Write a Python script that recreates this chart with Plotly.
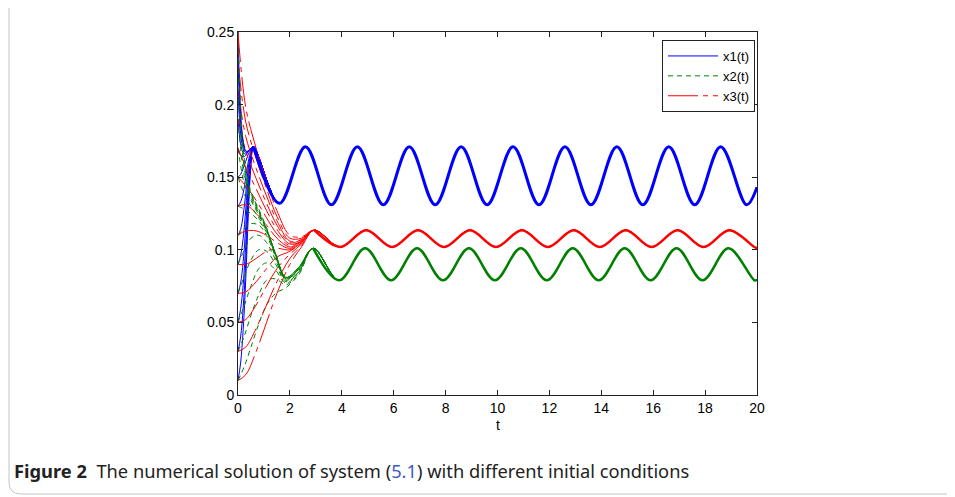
import plotly.graph_objects as go

# start of each run, before it settles onto the cycle (runs start at x1 = x2 = x3 = c)
INIT = [0.01, 0.03, 0.05, 0.07, 0.09, 0.11, 0.13, 0.15, 0.17, 0.19, 0.21, 0.23, 0.25]

T_X1 = [0, 0.1, 0.2, 0.3, 0.4, 0.5]
X1_START = [
    [0.010, 0.022, 0.045, 0.080, 0.125, 0.158],
    [0.030, 0.040, 0.060, 0.092, 0.133, 0.160],
    [0.050, 0.059, 0.076, 0.104, 0.140, 0.162],
    [0.070, 0.077, 0.092, 0.116, 0.146, 0.164],
    [0.090, 0.096, 0.108, 0.128, 0.152, 0.165],
    [0.110, 0.114, 0.124, 0.139, 0.157, 0.167],
    [0.130, 0.133, 0.139, 0.150, 0.161, 0.168],
    [0.150, 0.152, 0.156, 0.161, 0.166, 0.169],
    [0.170, 0.165, 0.164, 0.165, 0.168, 0.170],
    [0.190, 0.173, 0.167, 0.166, 0.168, 0.170],
    [0.210, 0.180, 0.170, 0.167, 0.168, 0.170],
    [0.230, 0.188, 0.173, 0.168, 0.168, 0.170],
    [0.250, 0.195, 0.175, 0.168, 0.168, 0.170],
]

T_X2 = [0, 0.25, 0.5, 0.8, 1.1, 1.45, 1.85, 2.35]
X2_START = [
    [0.010, 0.020, 0.033, 0.049, 0.062, 0.070, 0.074, 0.083],
    [0.030, 0.041, 0.055, 0.069, 0.079, 0.080, 0.076, 0.084],
    [0.050, 0.062, 0.075, 0.087, 0.091, 0.086, 0.077, 0.085],
    [0.070, 0.082, 0.093, 0.100, 0.099, 0.090, 0.078, 0.085],
    [0.090, 0.100, 0.108, 0.110, 0.105, 0.093, 0.079, 0.086],
    [0.110, 0.115, 0.118, 0.117, 0.110, 0.095, 0.080, 0.087],
    [0.130, 0.128, 0.125, 0.120, 0.112, 0.096, 0.080, 0.087],
    [0.150, 0.138, 0.130, 0.122, 0.113, 0.096, 0.080, 0.087],
    [0.170, 0.145, 0.134, 0.124, 0.114, 0.097, 0.080, 0.087],
    [0.190, 0.150, 0.136, 0.125, 0.114, 0.097, 0.081, 0.088],
    [0.210, 0.155, 0.138, 0.126, 0.114, 0.097, 0.081, 0.088],
    [0.230, 0.158, 0.139, 0.127, 0.115, 0.097, 0.081, 0.088],
    [0.250, 0.162, 0.140, 0.128, 0.115, 0.097, 0.081, 0.088],
]

T_X3 = [0, 0.3, 0.7, 1.1, 1.5, 2.0, 2.45]
X3_START = [
    [0.010, 0.014, 0.030, 0.050, 0.070, 0.090, 0.102],
    [0.030, 0.033, 0.046, 0.062, 0.078, 0.094, 0.103],
    [0.050, 0.052, 0.062, 0.075, 0.087, 0.097, 0.104],
    [0.070, 0.071, 0.078, 0.087, 0.095, 0.099, 0.105],
    [0.090, 0.090, 0.094, 0.099, 0.101, 0.100, 0.105],
    [0.110, 0.113, 0.113, 0.110, 0.105, 0.101, 0.106],
    [0.130, 0.131, 0.125, 0.117, 0.108, 0.102, 0.106],
    [0.150, 0.144, 0.134, 0.122, 0.111, 0.103, 0.106],
    [0.170, 0.157, 0.142, 0.127, 0.114, 0.104, 0.106],
    [0.190, 0.168, 0.149, 0.132, 0.117, 0.105, 0.107],
    [0.210, 0.178, 0.156, 0.137, 0.120, 0.106, 0.107],
    [0.230, 0.188, 0.163, 0.142, 0.123, 0.108, 0.108],
    [0.250, 0.198, 0.170, 0.147, 0.127, 0.110, 0.109],
]

# settled cycle: peaks and troughs
X1_CYCLE_T = [0.6, 1.6, 2.6, 3.6, 4.6, 5.6, 6.6, 7.6, 8.6, 9.6, 10.6,
              11.6, 12.6, 13.6, 14.6, 15.6, 16.6, 17.6, 18.6, 19.6, 20.0]
X1_CYCLE = [0.171, 0.132, 0.171, 0.131, 0.171, 0.131, 0.171, 0.131, 0.171, 0.131, 0.171,
            0.131, 0.171, 0.131, 0.171, 0.131, 0.171, 0.131, 0.171, 0.131, 0.143]

X2_CYCLE_T = [2.9, 3.9, 4.9, 5.9, 6.9, 7.9, 8.9, 9.9, 10.9, 11.9,
              12.9, 13.9, 14.9, 15.9, 16.9, 17.9, 18.9, 19.9, 20.0]
X2_CYCLE = [0.101, 0.079, 0.101, 0.079, 0.101, 0.079, 0.101, 0.079, 0.101, 0.079,
            0.101, 0.079, 0.101, 0.079, 0.101, 0.079, 0.101, 0.079, 0.0792]

X3_CYCLE_T = [2.94, 3.94, 4.94, 5.94, 6.94, 7.94, 8.94, 9.94, 10.94, 11.94,
              12.94, 13.94, 14.94, 15.94, 16.94, 17.94, 18.94, 19.94, 20.0]
X3_CYCLE = [0.1135, 0.102, 0.1135, 0.102, 0.1135, 0.102, 0.1135, 0.102, 0.1135, 0.102,
            0.1135, 0.102, 0.1135, 0.102, 0.1135, 0.102, 0.1135, 0.1015, 0.1016]

X_TICKS = [0, 2, 4, 6, 8, 10, 12, 14, 16, 18, 20]
Y_TICKS = [0, 0.05, 0.1, 0.15, 0.2, 0.25]
Y_TICK_TEXT = ["0", "0.05", "0.1", "0.15", "0.2", "0.25"]

BLUE = "#0000ff"
GREEN = "#008000"
RED = "#ff0000"
GREEN_DASH = "5px,4px"
RED_DASH = "30px,5px,5px,5px"

fig = go.Figure()

for i in range(len(INIT)):
    first = i == 0
    fig.add_trace(go.Scatter(
        x=T_X1 + X1_CYCLE_T, y=X1_START[i] + X1_CYCLE, mode="lines", name="x1(t)",
        line=dict(color=BLUE, width=1, shape="spline"),
        showlegend=first, legendrank=1))
    fig.add_trace(go.Scatter(
        x=T_X2 + X2_CYCLE_T, y=X2_START[i] + X2_CYCLE, mode="lines", name="x2(t)",
        line=dict(color=GREEN, width=1, dash=GREEN_DASH, shape="spline"),
        showlegend=first, legendrank=2))
    fig.add_trace(go.Scatter(
        x=T_X3 + X3_CYCLE_T, y=X3_START[i] + X3_CYCLE, mode="lines", name="x3(t)",
        line=dict(color=RED, width=1, dash=RED_DASH, shape="spline"),
        showlegend=first, legendrank=3))

# the runs all lie on top of each other once settled, which reads as a thick band
fig.add_trace(go.Scatter(x=X1_CYCLE_T, y=X1_CYCLE, mode="lines", showlegend=False,
                         line=dict(color=BLUE, width=3, shape="spline")))
fig.add_trace(go.Scatter(x=X2_CYCLE_T, y=X2_CYCLE, mode="lines", showlegend=False,
                         line=dict(color=GREEN, width=2.5, shape="spline")))
fig.add_trace(go.Scatter(x=X3_CYCLE_T, y=X3_CYCLE, mode="lines", showlegend=False,
                         line=dict(color=RED, width=2.5, shape="spline")))

W, H = 955, 497
OFF = 8  # the page body margin pushes the figure 8px right and down
L, R, T, B = 238, 757, 32, 395


def px(x):
    return (x - L) / (R - L)


def py(y):
    return (B - y) / (B - T)


axis_font = dict(family="Liberation Sans, Arial, sans-serif", size=14, color="black")
fig.update_xaxes(range=[0, 20], tickvals=X_TICKS, ticks="inside", ticklen=5,
                 showline=True, mirror="ticks", linecolor="#222", linewidth=1,
                 tickcolor="#222", showgrid=False, zeroline=False, tickfont=axis_font)
fig.update_yaxes(range=[0, 0.25], tickvals=Y_TICKS, ticktext=Y_TICK_TEXT, ticks="inside",
                 ticklen=5, showline=True, mirror="ticks", linecolor="#222", linewidth=1,
                 tickcolor="#222", showgrid=False, zeroline=False, tickfont=axis_font)

fig.update_layout(
    width=W, height=H,
    margin=dict(l=L - OFF, r=W - R + OFF, t=T - OFF, b=H - B + OFF),
    paper_bgcolor="white", plot_bgcolor="white",
    legend=dict(x=px(755), y=py(40), xanchor="right", yanchor="top",
                bgcolor="white", bordercolor="#222", borderwidth=1,
                itemwidth=50,
                font=dict(family="Liberation Sans, Arial, sans-serif", size=13, color="black"),
                tracegroupgap=0),
    annotations=[
        dict(text="t", x=0.5, y=py(425), xref="paper", yref="paper", showarrow=False,
             font=axis_font, xanchor="center", yanchor="middle"),
        dict(text="<b>Figure 2</b>  The numerical solution of system "
                  "(<span style='color:#3a5cc0'>5.1</span>) with different initial conditions",
             x=px(12), y=py(471), xref="paper", yref="paper", showarrow=False,
             xanchor="left", yanchor="middle",
             font=dict(family="Noto Sans", size=18.3, color="#222")),
    ],
    shapes=[
        dict(type="path", xref="paper", yref="paper", layer="below",
             path=f"M {px(9)},{py(-10)} L {px(9)},{py(482)} "
                  f"Q {px(9)},{py(494)} {px(21)},{py(494)} L {px(980)},{py(494)}",
             line=dict(color="#c4c4c4", width=1)),
    ],
)

fig.write_html("out.html")
